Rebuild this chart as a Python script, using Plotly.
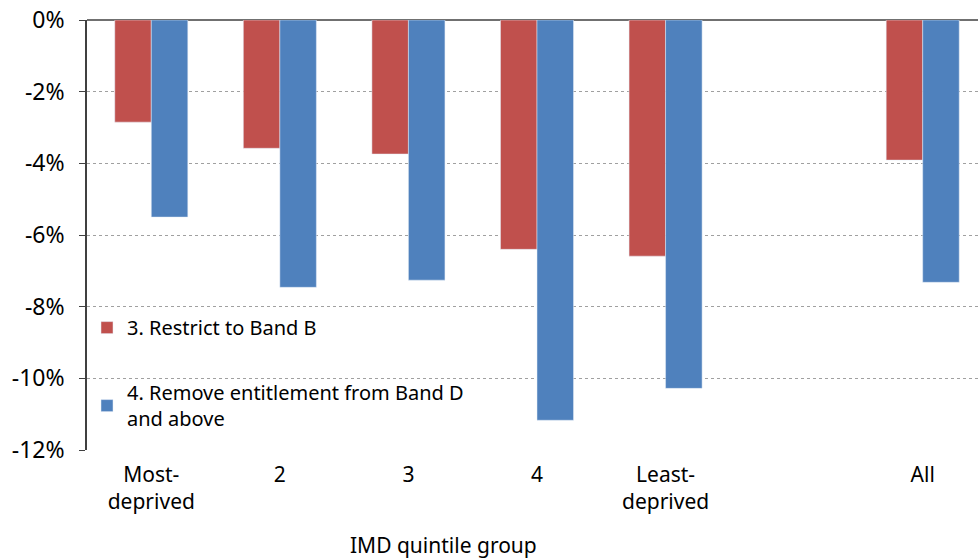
import plotly.graph_objects as go

# categories (one empty slot between Least-deprived and All)
categories = ["Most-<br>deprived", "2", "3", "4", "Least-<br>deprived", " ", "All"]

# % change
restrict_band_b = [-2.85, -3.58, -3.74, -6.4, -6.59, None, -3.91]
remove_band_d = [-5.5, -7.46, -7.26, -11.17, -10.28, None, -7.32]

y_ticks = [0, -2, -4, -6, -8, -10, -12]
y_labels = ["0%", "-2%", "-4%", "-6%", "-8%", "-10%", "-12%"]

font_family = "Noto Sans, Open Sans, sans-serif"

fig = go.Figure()

fig.add_trace(go.Bar(
    x=categories, y=restrict_band_b,
    name="3. Restrict to Band B",
    marker=dict(color="#C0504D"),
    legendgroup="a",
))
fig.add_trace(go.Bar(
    x=categories, y=remove_band_d,
    name="4. Remove entitlement from Band D<br>and above",
    marker=dict(color="#4F81BD"),
    legendgroup="b",
))

fig.update_layout(
    width=978, height=559,
    margin=dict(l=87, r=0, t=20, b=109),
    paper_bgcolor="white",
    plot_bgcolor="white",
    font=dict(family=font_family, size=20, color="black"),
    barmode="group",
    bargap=0.432,
    bargroupgap=0,
    showlegend=True,
    legend=dict(
        x=0.0, y=0.33, xanchor="left", yanchor="top",
        bgcolor="rgba(0,0,0,0)",
        font=dict(size=20),
        traceorder="grouped",
        tracegroupgap=36,
        itemwidth=30,
    ),
    xaxis=dict(
        type="category",
        categoryorder="array",
        categoryarray=categories,
        range=[-0.5, 6.43],
        showgrid=False,
        showline=False,
        ticks="",
        ticklabelstandoff=10,
        tickfont=dict(size=21),
    ),
    yaxis=dict(
        range=[-12, 0],
        tickvals=y_ticks,
        ticktext=y_labels,
        showgrid=True,
        gridcolor="#A0A0A0",
        griddash="dot",
        gridwidth=1,
        zeroline=True,
        zerolinecolor="#707070",
        zerolinewidth=1.5,
        showline=True,
        linecolor="#404040",
        linewidth=1.5,
        ticks="outside",
        ticklen=6,
        tickcolor="#404040",
        ticklabelstandoff=10,
        tickfont=dict(size=23),
        automargin=False,
    ),
    annotations=[dict(
        text="IMD quintile group",
        xref="paper", yref="paper",
        x=(443 - 87) / 891, y=-(545 - 450) / 430,
        xanchor="center", yanchor="middle",
        showarrow=False,
        font=dict(size=21),
    )],
)

fig.write_html(
    "out.html",
    config={"displayModeBar": False},
    post_script="document.body.style.margin='0';",
)
